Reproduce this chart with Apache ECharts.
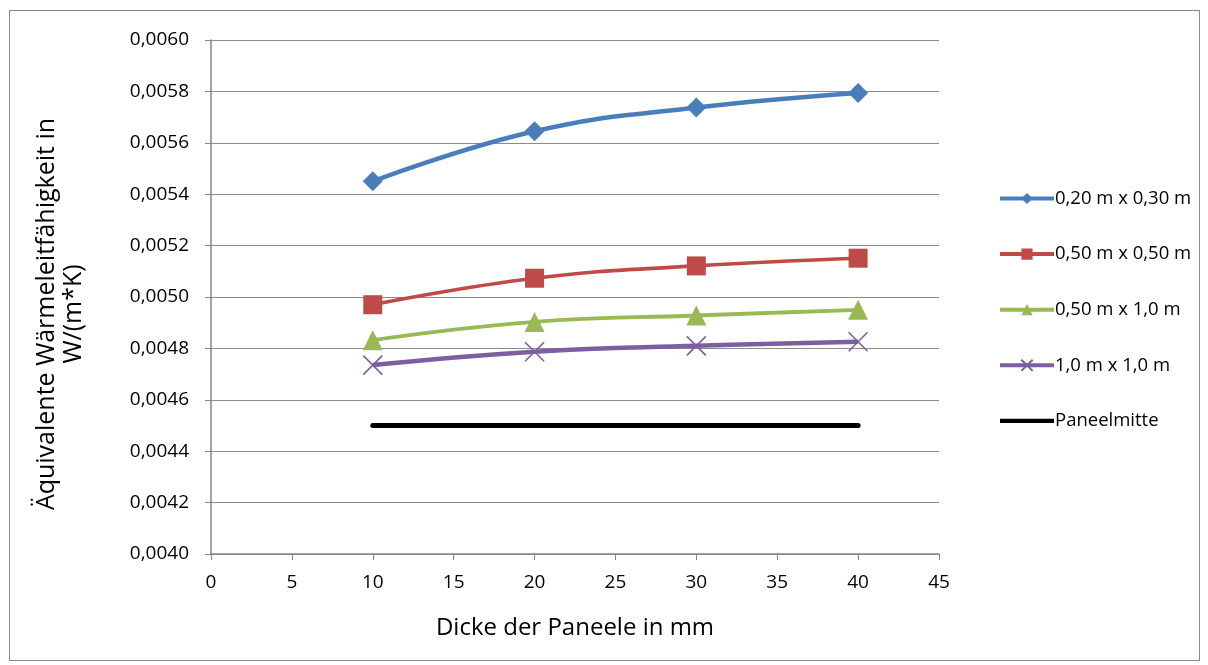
<!DOCTYPE html>
<html>
<head>
<meta charset="utf-8">
<script src="https://cdn.jsdelivr.net/npm/echarts@6/dist/echarts.min.js"></script>
<style>
  html, body { margin: 0; padding: 0; background: #fff; }
  #frame { position: absolute; left: 9px; top: 10px; width: 1191px; height: 651px; border: 1.5px solid #8a8a8a; box-sizing: border-box; }
  #chart { width: 1208px; height: 665px; position: absolute; left: 0; top: 0; }
</style>
</head>
<body>
<div id="frame"></div>
<div id="chart"></div>
<script>
// Panel thickness in mm
const thickness = [10, 20, 30, 40];

// Equivalent thermal conductivity in W/(m*K) per panel size
const size020x030 = [0.00545, 0.005645, 0.005737, 0.005794];
const size050x050 = [0.00497, 0.005073, 0.005121, 0.005151];
const size050x100 = [0.004832, 0.004903, 0.004928, 0.004950];
const size100x100 = [0.004735, 0.004787, 0.004810, 0.004826];
const panelCentre = [0.0045, 0.0045, 0.0045, 0.0045];

const seriesNames = ['0,20 m x 0,30 m', '0,50 m x 0,50 m', '0,50 m x 1,0 m', '1,0 m x 1,0 m', 'Paneelmitte'];

const FONT = '"Open Sans", "Noto Sans", sans-serif';
const pairs = vals => thickness.map((x, i) => [x, vals[i]]);

const chart = echarts.init(document.getElementById('chart'), null, { renderer: 'canvas' });

function lineSeries(name, vals, color, symbol, size, width, extra) {
  return Object.assign({
    name: name,
    type: 'line',
    data: pairs(vals),
    smooth: 0.45,
    symbol: symbol,
    symbolSize: size,
    showSymbol: true,
    lineStyle: { color: color, width: width },
    itemStyle: { color: color },
    emphasis: { disabled: true },
    z: 3
  }, extra || {});
}

chart.setOption({
  animation: false,
  backgroundColor: 'transparent',
  grid: { left: 211, right: 269, top: 40, bottom: 111, containLabel: false },
  xAxis: {
    type: 'value',
    min: 0, max: 45, interval: 5,
    name: 'Dicke der Paneele in mm',
    nameLocation: 'middle',
    nameGap: 62,
    nameTextStyle: { fontFamily: FONT, fontSize: 24, color: '#000' },
    axisLine: { show: true, lineStyle: { color: '#868686', width: 1.5 } },
    axisTick: { show: true, length: 6, lineStyle: { color: '#868686', width: 1 } },
    axisLabel: { fontFamily: FONT, fontSize: 19, color: '#000', margin: 19 },
    splitLine: { show: false }
  },
  yAxis: {
    type: 'value',
    min: 0.004, max: 0.006, interval: 0.0002,
    name: 'Äquivalente Wärmeleitfähigkeit in\nW/(m*K)',
    nameLocation: 'middle',
    nameRotate: 90,
    nameGap: 124,
    nameTextStyle: { fontFamily: FONT, fontSize: 25, color: '#000', lineHeight: 27, align: 'center', padding: [0, 34, 0, 0] },
    axisLine: { show: true, lineStyle: { color: '#868686', width: 1.5 } },
    axisTick: { show: true, inside: false, length: 6, lineStyle: { color: '#868686', width: 1 } },
    axisLabel: {
      fontFamily: FONT, fontSize: 19, color: '#000', margin: 22,
      formatter: v => v.toFixed(4).replace('.', ',')
    },
    splitLine: { show: true, lineStyle: { color: '#8c8c8c', width: 1.2 } }
  },
  legend: {
    orient: 'vertical',
    left: 993,
    top: 184,
    itemWidth: 54,
    itemHeight: 14,
    itemGap: 36.6,
    lineStyle: { width: 4 },
    data: seriesNames.slice(0, 4).concat([{ name: seriesNames[4], icon: 'path://M0,0 L110,0 L110,9 L0,9 Z' }]),
    textStyle: { fontFamily: FONT, fontSize: 18.5, lineHeight: 14, color: '#000', padding: [0, 0, 0, -4] }
  },
  series: [
    lineSeries(seriesNames[0], size020x030, '#4a7ebb', 'diamond', 20, 4.5),
    lineSeries(seriesNames[1], size050x050, '#be4b48', 'rect', 19, 3.6),
    lineSeries(seriesNames[2], size050x100, '#98b954', 'triangle', 20, 3.8),
    lineSeries(seriesNames[3], size100x100, '#7d5fa0', 'path://M0,0 L10,10 M10,0 L0,10', 19, 4.5, {
      itemStyle: { color: '#7d5fa0', borderColor: '#7d5fa0', borderWidth: 1.6 }
    }),
    lineSeries(seriesNames[4], panelCentre, '#000000', 'none', 0, 5, {
      smooth: false,
      showSymbol: false,
      itemStyle: { color: '#000' },
      lineStyle: { color: '#000', width: 5, cap: 'round' }
    })
  ]
});
</script>
</body>
</html>
